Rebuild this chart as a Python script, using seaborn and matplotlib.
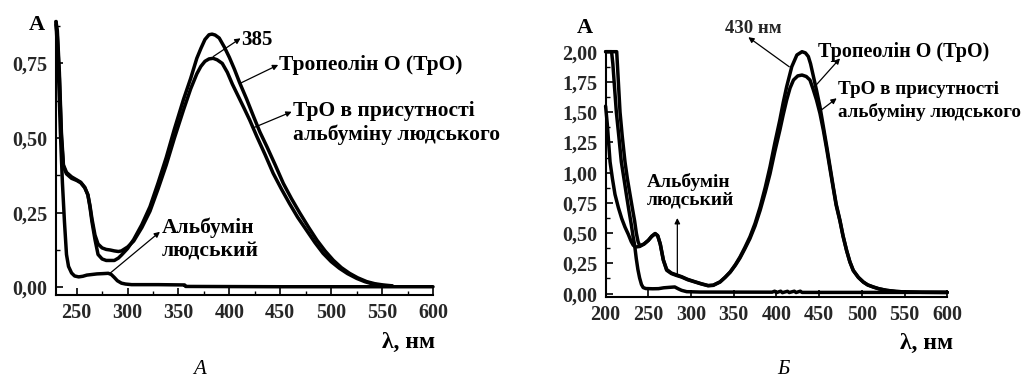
import numpy as np
import pandas as pd
import matplotlib
matplotlib.use("Agg")
import matplotlib.pyplot as plt
from matplotlib.ticker import MultipleLocator, FuncFormatter
import seaborn as sns

# ---- Panel A: absorbance spectra, 230-600 nm ----
a_tro_wl = [229.7, 231, 233, 235, 237, 240, 245, 250, 254, 258, 261, 263, 265, 268, 271,
            275, 279, 283, 287, 291, 294, 300, 306, 314, 322, 330, 338, 346, 355, 362,
            368, 372, 376, 380, 383, 386, 390, 395, 400, 405, 410, 417, 424, 430, 437,
            445, 453, 461, 469, 478, 486, 494, 502, 510, 518, 526, 535, 543, 551, 560]
a_tro_abs = [0.89, 0.86, 0.72, 0.52, 0.41, 0.385, 0.37, 0.36, 0.352, 0.335, 0.31, 0.27, 0.22,
             0.16, 0.11, 0.095, 0.09, 0.09, 0.09, 0.098, 0.108, 0.13, 0.16, 0.21, 0.27,
             0.35, 0.435, 0.53, 0.63, 0.70, 0.767, 0.80, 0.83, 0.846, 0.848, 0.845, 0.835,
             0.805, 0.77, 0.73, 0.686, 0.63, 0.57, 0.52, 0.47, 0.41, 0.348, 0.297, 0.25,
             0.20, 0.158, 0.122, 0.091, 0.066, 0.047, 0.032, 0.019, 0.012, 0.008, 0.005]

a_mix_wl = [229.7, 231, 233, 235, 237, 240, 245, 250, 254, 258, 261, 263, 265, 268, 271,
            275, 279, 283, 287, 291, 294, 300, 306, 314, 322, 330, 338, 346, 355, 362,
            368, 372, 376, 380, 384, 388, 393, 398, 403, 408, 414, 420, 427, 435, 443,
            451, 459, 467, 476, 484, 492, 500, 508, 516, 525, 533, 541, 550, 560]
a_mix_abs = [0.88, 0.84, 0.70, 0.50, 0.405, 0.38, 0.365, 0.358, 0.35, 0.333, 0.31, 0.275,
             0.23, 0.175, 0.145, 0.132, 0.127, 0.125, 0.122, 0.12, 0.122, 0.135, 0.155,
             0.20, 0.255, 0.33, 0.41, 0.50, 0.595, 0.665, 0.715, 0.74, 0.757, 0.765, 0.767,
             0.762, 0.75, 0.72, 0.68, 0.645, 0.603, 0.56, 0.505, 0.445, 0.382, 0.33, 0.281,
             0.235, 0.19, 0.15, 0.114, 0.086, 0.064, 0.046, 0.03, 0.019, 0.011, 0.006, 0.004]

a_alb_wl = [229.7, 231, 232.5, 234, 236, 238, 240, 242, 245, 248, 252, 256, 260, 265, 270,
            276, 281, 284, 287, 290, 294, 298, 304, 330, 356, 357, 450, 600]
a_alb_abs = [0.89, 0.80, 0.68, 0.52, 0.35, 0.22, 0.11, 0.07, 0.048, 0.038, 0.035, 0.037,
             0.041, 0.043, 0.045, 0.046, 0.047, 0.043, 0.033, 0.022, 0.014, 0.011, 0.009,
             0.009, 0.008, 0.003, 0.002, 0.002]

# ---- Panel Б: absorbance spectra, 200-600 nm ----
b_tro_wl = [200, 213, 216.9, 219.5, 222.7, 225.5, 228.6, 231.5, 234, 236, 238, 240, 245,
            250, 254, 258, 261, 264, 267.6, 271.5, 277, 283, 289, 296, 304.7, 312, 320,
            326, 334, 340, 346, 352, 357.4, 363, 369, 375, 381, 387, 392.5, 398, 404, 408,
            412, 418, 424, 430, 434, 437.4, 440, 443.2, 447, 451, 455, 459, 463, 466.6,
            470, 474.4, 478, 482.2, 486, 490, 496, 501.8, 507, 513.5, 520, 529, 540, 550,
            570, 600]
b_tro_abs = [2.0, 2.0, 1.5, 1.3, 1.09, 0.95, 0.82, 0.70, 0.60, 0.50, 0.43, 0.395, 0.41,
             0.44, 0.475, 0.497, 0.48, 0.41, 0.276, 0.193, 0.166, 0.15, 0.137, 0.115, 0.096,
             0.08, 0.065, 0.068, 0.096, 0.135, 0.18, 0.24, 0.303, 0.38, 0.469, 0.58, 0.717,
             0.88, 1.048, 1.24, 1.435, 1.58, 1.71, 1.876, 1.973, 2.0, 1.99, 1.96, 1.90, 1.80,
             1.68, 1.545, 1.38, 1.214, 1.04, 0.882, 0.74, 0.607, 0.48, 0.358, 0.265, 0.193,
             0.135, 0.096, 0.072, 0.055, 0.04, 0.027, 0.018, 0.014, 0.011, 0.01]

b_mix_wl = [200, 202, 205.2, 208, 211, 215, 218.9, 222.7, 226.6, 230, 232.4, 235, 240, 245,
            250, 254, 258, 261, 264, 267.6, 271.5, 277, 283, 289, 296, 304.7, 312, 320,
            326, 334, 340, 346, 352, 357.4, 363, 369, 375, 381, 387, 392.5, 398, 404, 408,
            412, 416, 420, 425, 430, 435, 439.3, 443, 447, 451, 455, 459, 463, 466.6, 470,
            474.4, 478, 482.2, 486, 490, 496, 501.8, 507, 513.5, 520, 529, 540, 550, 570, 600]
b_mix_abs = [1.55, 1.40, 1.09, 0.95, 0.82, 0.71, 0.62, 0.55, 0.49, 0.43, 0.40, 0.385, 0.39,
             0.41, 0.44, 0.472, 0.495, 0.478, 0.41, 0.28, 0.20, 0.17, 0.155, 0.14, 0.118,
             0.098, 0.082, 0.067, 0.07, 0.097, 0.135, 0.178, 0.235, 0.295, 0.37, 0.455,
             0.56, 0.69, 0.84, 0.99, 1.17, 1.35, 1.48, 1.60, 1.70, 1.766, 1.80, 1.807,
             1.795, 1.766, 1.69, 1.60, 1.49, 1.35, 1.19, 1.02, 0.87, 0.73, 0.60, 0.475,
             0.355, 0.262, 0.19, 0.133, 0.095, 0.071, 0.054, 0.04, 0.027, 0.018, 0.014,
             0.011, 0.01]

b_alb_wl = [200, 207, 208.5, 210, 212.6, 215.5, 218.4, 221.5, 224.3, 227, 230.1, 232, 234,
            235.9, 237.8, 239.8, 242, 244, 247, 255, 262, 268, 275, 281, 285, 289, 295, 310,
            395, 398, 400, 405, 407, 413, 415, 421, 423, 428, 430, 600]
b_alb_abs = [2.0, 2.0, 1.9, 1.75, 1.5, 1.3, 1.09, 0.95, 0.82, 0.70, 0.57, 0.48, 0.40, 0.29,
             0.20, 0.13, 0.075, 0.05, 0.042, 0.04, 0.041, 0.048, 0.052, 0.055, 0.04, 0.027,
             0.016, 0.013, 0.012, 0.02, 0.008, 0.02, 0.008, 0.019, 0.009, 0.02, 0.009, 0.02,
             0.01, 0.01]

x_ticks_a = [250, 300, 350, 400, 450, 500, 550, 600]
x_ticks_b = [200, 250, 300, 350, 400, 450, 500, 550, 600]
y_ticks_a = [0.0, 0.25, 0.5, 0.75]
y_ticks_b = [0.0, 0.25, 0.5, 0.75, 1.0, 1.25, 1.5, 1.75, 2.0]

sns.set_theme(style="ticks")
SERIF = ["Liberation Serif", "DejaVu Serif"]
plt.rcParams["font.family"] = SERIF

W, H = 1030, 378
fig = plt.figure(figsize=(W / 100, H / 100), dpi=100)
fig.patch.set_facecolor("white")

ax_a = fig.add_axes([56 / W, (H - 294.5) / H, 377 / W, (294.5 - 20.7) / H])
ax_b = fig.add_axes([605.6 / W, (H - 297) / H, 341.6 / W, (297 - 51.7) / H])

LW = 2.5


def draw(ax, wl, ab):
    df = pd.DataFrame({"wl": wl, "A": ab})
    sns.lineplot(data=df, x="wl", y="A", ax=ax, color="black", lw=LW,
                 sort=False, estimator=None, clip_on=False)


for wl, ab in [(a_tro_wl, a_tro_abs), (a_mix_wl, a_mix_abs), (a_alb_wl, a_alb_abs)]:
    draw(ax_a, wl, ab)
for wl, ab in [(b_tro_wl, b_tro_abs), (b_mix_wl, b_mix_abs), (b_alb_wl, b_alb_abs)]:
    draw(ax_b, wl, ab)

comma = FuncFormatter(lambda v, p: f"{v:.2f}".replace(".", ","))

for ax in (ax_a, ax_b):
    ax.set_facecolor("white")
    for s in ("top", "right"):
        ax.spines[s].set_visible(False)
    for s in ("left", "bottom"):
        ax.spines[s].set_linewidth(1.5)
        ax.spines[s].set_color("black")
    ax.set_xlabel("")
    ax.set_ylabel("")
    ax.tick_params(which="major", direction="in", length=5, width=1.2, color="black",
                   pad=6)
    ax.tick_params(which="minor", direction="in", length=3, width=1.0, color="black")
    ax.yaxis.set_major_formatter(comma)

ax_a.set_xlim(229.7, 600)
ax_a.set_ylim(-0.024, 0.893)
ax_a.set_xticks(x_ticks_a)
ax_a.set_yticks(y_ticks_a)
ax_a.xaxis.set_minor_locator(MultipleLocator(25))
ax_a.yaxis.set_minor_locator(MultipleLocator(0.125))

ax_b.set_xlim(200, 600)
ax_b.set_ylim(-0.028, 2.0)
ax_b.set_xticks(x_ticks_b)
ax_b.set_yticks(y_ticks_b)
ax_b.yaxis.set_minor_locator(MultipleLocator(0.125))

for ax in (ax_a, ax_b):
    for lab in ax.get_xticklabels() + ax.get_yticklabels():
        lab.set_fontweight("bold")
        lab.set_fontsize(14.5)

arrow = dict(arrowstyle="-|>", lw=0.9, color="black", mutation_scale=8,
             shrinkA=0, shrinkB=0)
txt = dict(fontweight="bold", color="black", va="center", ha="left",
           annotation_clip=False)

# Panel A labels
ax_a.annotate("", xy=(411, 0.834), xytext=(384.2, 0.773), arrowprops=arrow,
              annotation_clip=False)
ax_a.annotate("385", xy=(412, 0.828), fontsize=15, **txt)
ax_a.annotate("", xy=(448, 0.745), xytext=(410.4, 0.683), arrowprops=arrow,
              annotation_clip=False)
ax_a.annotate("Тропеолін О (ТрО)", xy=(448.5, 0.745), fontsize=15.5, **txt)
ax_a.annotate("", xy=(461.2, 0.588), xytext=(424, 0.535), arrowprops=arrow,
              annotation_clip=False)
ax_a.annotate("ТрО в присутності\nальбуміну людського", xy=(462.5, 0.55),
              fontsize=15.5, linespacing=1.25, **txt)
ax_a.annotate("", xy=(331.8, 0.186), xytext=(282.7, 0.047), arrowprops=arrow,
              annotation_clip=False)
ax_a.annotate("Альбумін\nлюдський", xy=(333.5, 0.161), fontsize=15.5,
              linespacing=1.2, **txt)

# Panel Б labels
ax_b.annotate("", xy=(367.1, 2.12), xytext=(415.1, 1.875), arrowprops=arrow,
              annotation_clip=False)
ax_b.annotate("430 нм", xy=(372.9, 2.19), fontsize=13.5, fontweight="bold",
              ha="center", va="center", annotation_clip=False)
ax_b.annotate("", xy=(474.5, 1.945), xytext=(446, 1.72), arrowprops=arrow,
              annotation_clip=False)
ax_b.annotate("Тропеолін О (ТрО)", xy=(448.7, 2.0), fontsize=14.5, **txt)
ax_b.annotate("", xy=(470.6, 1.615), xytext=(453, 1.52), arrowprops=arrow,
              annotation_clip=False)
ax_b.annotate("ТрО в присутності\nальбуміну людського", xy=(472, 1.59),
              fontsize=13.8, linespacing=1.35, **txt)
ax_b.annotate("", xy=(284, 0.625), xytext=(284, 0.157), arrowprops=arrow,
              annotation_clip=False)
ax_b.annotate("Альбумін\nлюдський", xy=(248.1, 0.85), fontsize=14,
              linespacing=1.1, **txt)

# Axis titles and panel captions
def ftext(x, y, s, **kw):
    fig.text(x / W, 1 - y / H, s, ha="center", va="center", color="black", **kw)

ftext(36.7, 25, "А", fontsize=16, fontweight="bold")
ftext(585, 28.3, "А", fontsize=16, fontweight="bold")
ftext(409, 342, "λ, нм", fontsize=17, fontweight="bold")
ftext(927, 343, "λ, нм", fontsize=17, fontweight="bold")
ftext(200, 370, "А", fontsize=15, style="italic")
ftext(783, 370, "Б", fontsize=15, style="italic")

fig.savefig("out.png", dpi=100, facecolor="white")
